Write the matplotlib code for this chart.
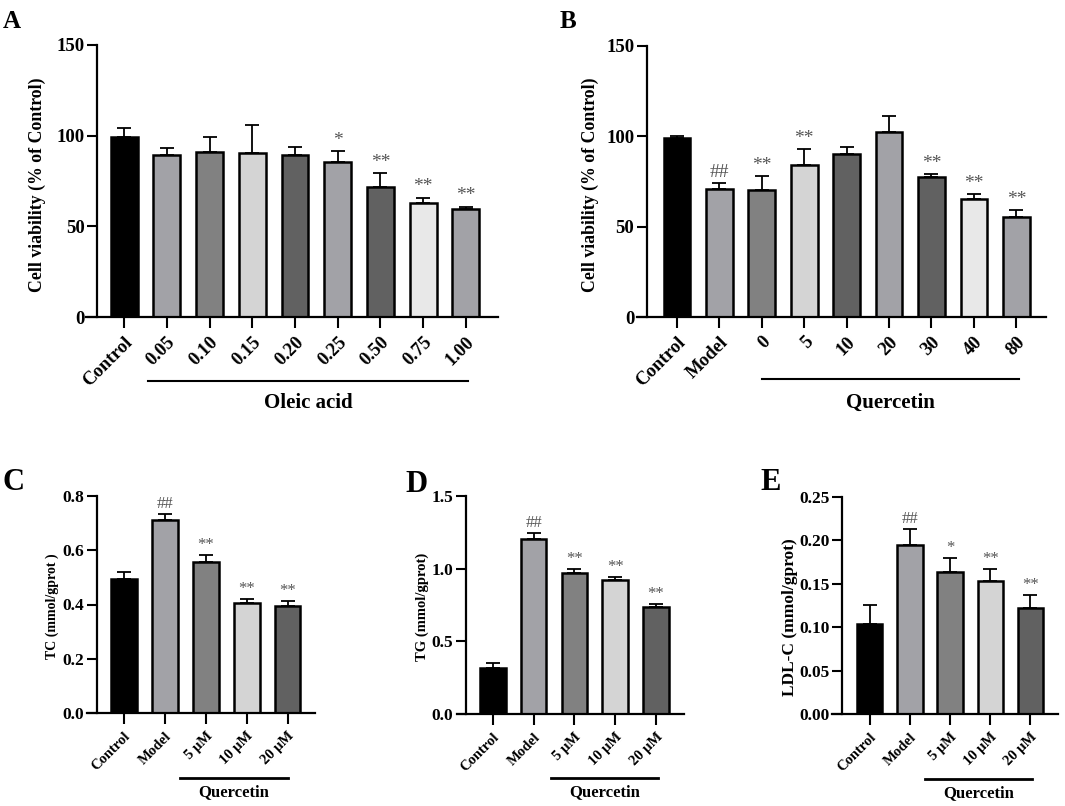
import numpy as np
import matplotlib
matplotlib.use("Agg")
import matplotlib.pyplot as plt
from matplotlib.ticker import FormatStrFormatter
from matplotlib.transforms import blended_transform_factory

plt.rcParams['font.family'] = ['Liberation Serif', 'DejaVu Serif']
plt.rcParams['font.weight'] = 'bold'

W, H = 1065, 806

# --- data ---
a_labels = ["Control", "0.05", "0.10", "0.15", "0.20", "0.25", "0.50", "0.75", "1.00"]
a_mean = [99.2, 89.3, 91.1, 90.4, 89.6, 85.6, 71.6, 62.9, 59.3]
a_err = [5.0, 3.8, 8.3, 15.4, 4.3, 6.1, 7.7, 3.0, 1.6]
a_marks = ["", "", "", "", "", "*", "**", "**", "**"]

b_labels = ["Control", "Model", "0", "5", "10", "20", "30", "40", "80"]
b_mean = [99.1, 70.8, 70.5, 84.0, 90.0, 102.2, 77.5, 65.5, 55.4]
b_err = [1.3, 3.6, 7.4, 9.0, 4.3, 8.8, 1.7, 2.4, 3.6]
b_marks = ["", "##", "**", "**", "", "", "**", "**", "**"]

q_labels = ["Control", "Model", "5 μM", "10 μM", "20 μM"]

c_mean = [0.493, 0.712, 0.555, 0.404, 0.393]
c_err = [0.025, 0.023, 0.028, 0.016, 0.021]
c_marks = ["", "##", "**", "**", "**"]

d_mean = [0.317, 1.201, 0.969, 0.919, 0.733]
d_err = [0.037, 0.042, 0.030, 0.023, 0.025]
d_marks = ["", "##", "**", "**", "**"]

e_mean = [0.1035, 0.1944, 0.1637, 0.1534, 0.1219]
e_err = [0.0223, 0.0192, 0.0161, 0.0134, 0.0150]
e_marks = ["", "##", "*", "**", "**"]

top_colors = ["#000000", "#a2a2a7", "#818181", "#d4d4d4", "#616161",
              "#a2a2a7", "#616161", "#e8e8e8", "#a2a2a7"]
bot_colors = ["#000000", "#a2a2a7", "#818181", "#d4d4d4", "#616161"]


def px_axes(fig, left, top, right, bottom):
    return fig.add_axes([left / W, 1 - bottom / H, (right - left) / W, (bottom - top) / H])


def bar_panel(ax, labels, mean, err, marks, colors, xlim, yaxis_x, ylim, yticks,
              tick_fs, ytick_fs, mark_fs):
    x = np.arange(len(labels))
    ax.bar(x, mean, width=0.63, color=colors, edgecolor="black", linewidth=1.8, zorder=2)
    ax.errorbar(x, mean, yerr=[np.zeros(len(err)), err], fmt="none", ecolor="black",
                elinewidth=1.3, capsize=5, capthick=1.3, zorder=3)
    for xi, m, e, mk in zip(x, mean, err, marks):
        if mk:
            ax.annotate(mk, (xi, m + e), xytext=(0, 1.5), textcoords="offset points",
                        ha="center", va="bottom", fontsize=mark_fs, color="#555555",
                        fontweight="normal")
    ax.set_xlim(*xlim)
    ax.set_ylim(*ylim)
    ax.set_yticks(yticks)
    ax.set_xticks(x)
    ax.set_xticklabels(labels, rotation=45, ha="right", rotation_mode="anchor",
                       fontsize=tick_fs, fontweight="bold")
    ax.tick_params(axis="x", length=8, width=1.5, pad=4)
    ax.tick_params(axis="y", length=7, width=1.5, labelsize=ytick_fs, pad=2)
    for t in ax.get_yticklabels():
        t.set_fontweight("bold")
    ax.spines["top"].set_visible(False)
    ax.spines["right"].set_visible(False)
    ax.spines["left"].set_position(("data", yaxis_x))
    ax.spines["left"].set_linewidth(1.6)
    ax.spines["bottom"].set_linewidth(1.6)
    ax.patch.set_alpha(0)


def group_line(fig, ax, x0, x1, y_px, text, text_y_px, fs, lw):
    tr = blended_transform_factory(ax.transData, fig.transFigure)
    ax.plot([x0, x1], [1 - y_px / H] * 2, color="black", lw=lw, transform=tr, clip_on=False)
    ax.text((x0 + x1) / 2, 1 - text_y_px / H, text, transform=tr, ha="center", va="center",
            fontsize=fs, fontweight="bold")


def ylabel(fig, x_px, y_px, text, fs):
    fig.text(x_px / W, 1 - y_px / H, text, rotation=90, ha="center", va="center",
             fontsize=fs, fontweight="bold")


fig = plt.figure(figsize=(W / 100, H / 100), dpi=100)

# A
ax = px_axes(fig, 86, 45, 498, 317)
bar_panel(ax, a_labels, a_mean, a_err, a_marks, top_colors, (-0.89, 8.75), -0.63,
          (0, 150), [0, 50, 100, 150], 13.5, 13.5, 14)
group_line(fig, ax, 0.56, 8.05, 381, "Oleic acid", 403, 15, 1.5)
ylabel(fig, 37, 185, "Cell viability (% of Control)", 12.8)
fig.text(3 / W, 1 - 28 / H, "A", fontsize=18, fontweight="bold", va="baseline")

# B
ax = px_axes(fig, 637, 46, 1046, 317)
bar_panel(ax, b_labels, b_mean, b_err, b_marks, top_colors, (-0.94, 8.7), -0.71,
          (0, 150), [0, 50, 100, 150], 13.5, 13.5, 14)
group_line(fig, ax, 2.0, 8.07, 379, "Quercetin", 403, 15, 1.5)
ylabel(fig, 590, 185, "Cell viability (% of Control)", 12.8)
fig.text(560 / W, 1 - 28 / H, "B", fontsize=18, fontweight="bold", va="baseline")

# C
ax = px_axes(fig, 87, 496, 315, 713)
bar_panel(ax, q_labels, c_mean, c_err, c_marks, bot_colors, (-0.9, 4.67), -0.66,
          (0, 0.8), [0.0, 0.2, 0.4, 0.6, 0.8], 10.5, 12.5, 12)
ax.yaxis.set_major_formatter(FormatStrFormatter("%.1f"))
group_line(fig, ax, 1.37, 4.0, 778, "Quercetin", 792, 12, 2)
ylabel(fig, 52, 606, "TC (mmol/gprot )", 10)
fig.text(3 / W, 1 - 490 / H, "C", fontsize=22, fontweight="bold", va="baseline")

# D
ax = px_axes(fig, 457, 496, 684, 714)
bar_panel(ax, q_labels, d_mean, d_err, d_marks, bot_colors, (-0.88, 4.69), -0.66,
          (0, 1.5), [0.0, 0.5, 1.0, 1.5], 10.5, 12.5, 12)
ax.yaxis.set_major_formatter(FormatStrFormatter("%.1f"))
group_line(fig, ax, 1.42, 4.05, 778, "Quercetin", 792, 12, 2)
ylabel(fig, 422, 607, "TG (mmol/gprot)", 10.5)
fig.text(405 / W, 1 - 492 / H, "D", fontsize=22, fontweight="bold", va="baseline")

# E
ax = px_axes(fig, 832, 497, 1058, 714)
bar_panel(ax, q_labels, e_mean, e_err, e_marks, bot_colors, (-0.94, 4.69), -0.69,
          (0, 0.25), [0.0, 0.05, 0.10, 0.15, 0.20, 0.25], 10.5, 12.5, 12)
ax.yaxis.set_major_formatter(FormatStrFormatter("%.2f"))
group_line(fig, ax, 1.38, 4.05, 779, "Quercetin", 793, 12, 2)
ylabel(fig, 790, 617, "LDL-C (mmol/gprot)", 12.5)
fig.text(760 / W, 1 - 490 / H, "E", fontsize=22, fontweight="bold", va="baseline")

fig.savefig("out.png", dpi=100)
plt.close(fig)
